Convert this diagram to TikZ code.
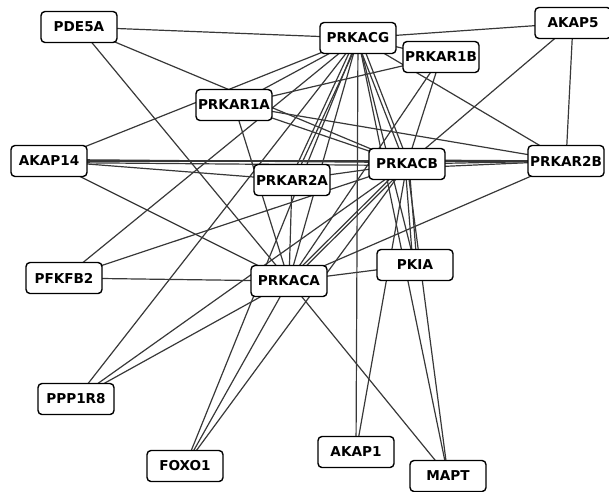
\documentclass[tikz,border=0pt]{standalone}
\usepackage{fontspec}
\newfontfamily\nodefont{DejaVu Sans}
\usetikzlibrary{backgrounds}
\begin{document}
\begin{tikzpicture}[x=1pt,y=-1pt,
  gene/.style={draw=black, line width=1.4pt, fill=white, rounded corners=4pt,
    minimum width=76pt, minimum height=31pt, inner sep=0pt,
    font=\nodefont\bfseries\fontsize{13.6}{14}\selectfont},
  link/.style={draw=black!78, line width=1.2pt}]
\useasboundingbox (0,0) rectangle (609,491);
\node[gene] (PDE5A)   at (79,27)   {PDE5A};
\node[gene] (PRKACG)  at (358,38)  {PRKACG};
\node[gene] (AKAP5)   at (573,23)  {AKAP5};
\node[gene] (PRKAR1B) at (441,57)  {PRKAR1B};
\node[gene] (PRKAR1A) at (234,105) {PRKAR1A};
\node[gene] (AKAP14)  at (49,161)  {AKAP14};
\node[gene] (PRKACB)  at (407,164) {PRKACB};
\node[gene] (PRKAR2B) at (566,161) {PRKAR2B};
\node[gene] (PRKAR2A) at (292,180) {PRKAR2A};
\node[gene] (PFKFB2)  at (64,278)  {PFKFB2};
\node[gene] (PRKACA)  at (289,281) {PRKACA};
\node[gene] (PKIA)    at (415,265) {PKIA};
\node[gene] (PPP1R8)  at (76,399)  {PPP1R8};
\node[gene] (FOXO1)   at (185,466) {FOXO1};
\node[gene] (AKAP1)   at (356,452) {AKAP1};
\node[gene] (MAPT)    at (448,476) {MAPT};
\begin{pgfonlayer}{background}
\foreach \a/\b in {PDE5A/PRKACG, PDE5A/PRKACB, PDE5A/PRKACA,
  PRKACG/AKAP5, PRKACG/PRKAR1B, PRKACG/PRKAR2B, PRKACG/PRKAR1A, PRKACG/AKAP14,
  PRKACG/PFKFB2, PRKACG/PPP1R8, PRKACG/PRKACA, PRKACG/FOXO1, PRKACG/AKAP1,
  PRKACG/PKIA, PRKACG/MAPT,
  AKAP5/PRKACB, AKAP5/PRKAR2B,
  PRKAR1B/PRKAR1A, PRKAR1B/PRKACA, PRKAR1B/PRKACB,
  PRKAR2B/PRKACA, PRKAR2B/PRKAR1A, PRKAR2B/AKAP14, PRKAR2B/PRKACB,
  AKAP14/PRKAR2A, AKAP14/PRKACA,
  PRKAR1A/PRKACA, PRKAR1A/PRKACB,
  PRKAR2A/PRKACB, PRKAR2A/PRKACA,
  PFKFB2/PRKACA, PFKFB2/PRKACB,
  PPP1R8/PRKACA, PPP1R8/PRKACB,
  FOXO1/PRKACA, FOXO1/PRKACB,
  AKAP1/PRKACB, MAPT/PRKACA, MAPT/PRKACB,
  PKIA/PRKACA}
  \draw[link] (\a.center) -- (\b.center);
% multiple parallel edges
\draw[link] ([xshift=-2pt]PRKACG.center) -- ([xshift=-2pt]PRKAR2A.center);
\draw[link] ([xshift=2pt]PRKACG.center) -- ([xshift=2pt]PRKAR2A.center);
\draw[link] ([xshift=-2pt]PRKACG.center) -- ([xshift=-2pt]PRKACB.center);
\draw[link] ([xshift=2pt]PRKACG.center) -- ([xshift=2pt]PRKACB.center);
\draw[link] ([yshift=-4pt]PRKACB.center) -- (PRKAR2B.center);
\draw[link] ([yshift=4pt]PRKACB.center) -- (PRKAR2B.center);
\draw[link] ([yshift=-1.5pt]AKAP14.center) -- ([yshift=-1.5pt]PRKACB.center);
\draw[link] ([yshift=1.5pt]AKAP14.center) -- ([yshift=1.5pt]PRKACB.center);
\draw[link] ([yshift=-2pt]PRKACA.center) -- ([yshift=-2pt]PRKACB.center);
\draw[link] ([yshift=2pt]PRKACA.center) -- ([yshift=2pt]PRKACB.center);
\draw[link] ([xshift=-2pt]PKIA.center) -- ([xshift=-2pt]PRKACB.center);
\draw[link] ([xshift=2pt]PKIA.center) -- ([xshift=2pt]PRKACB.center);
\end{pgfonlayer}
\end{tikzpicture}
\end{document}
